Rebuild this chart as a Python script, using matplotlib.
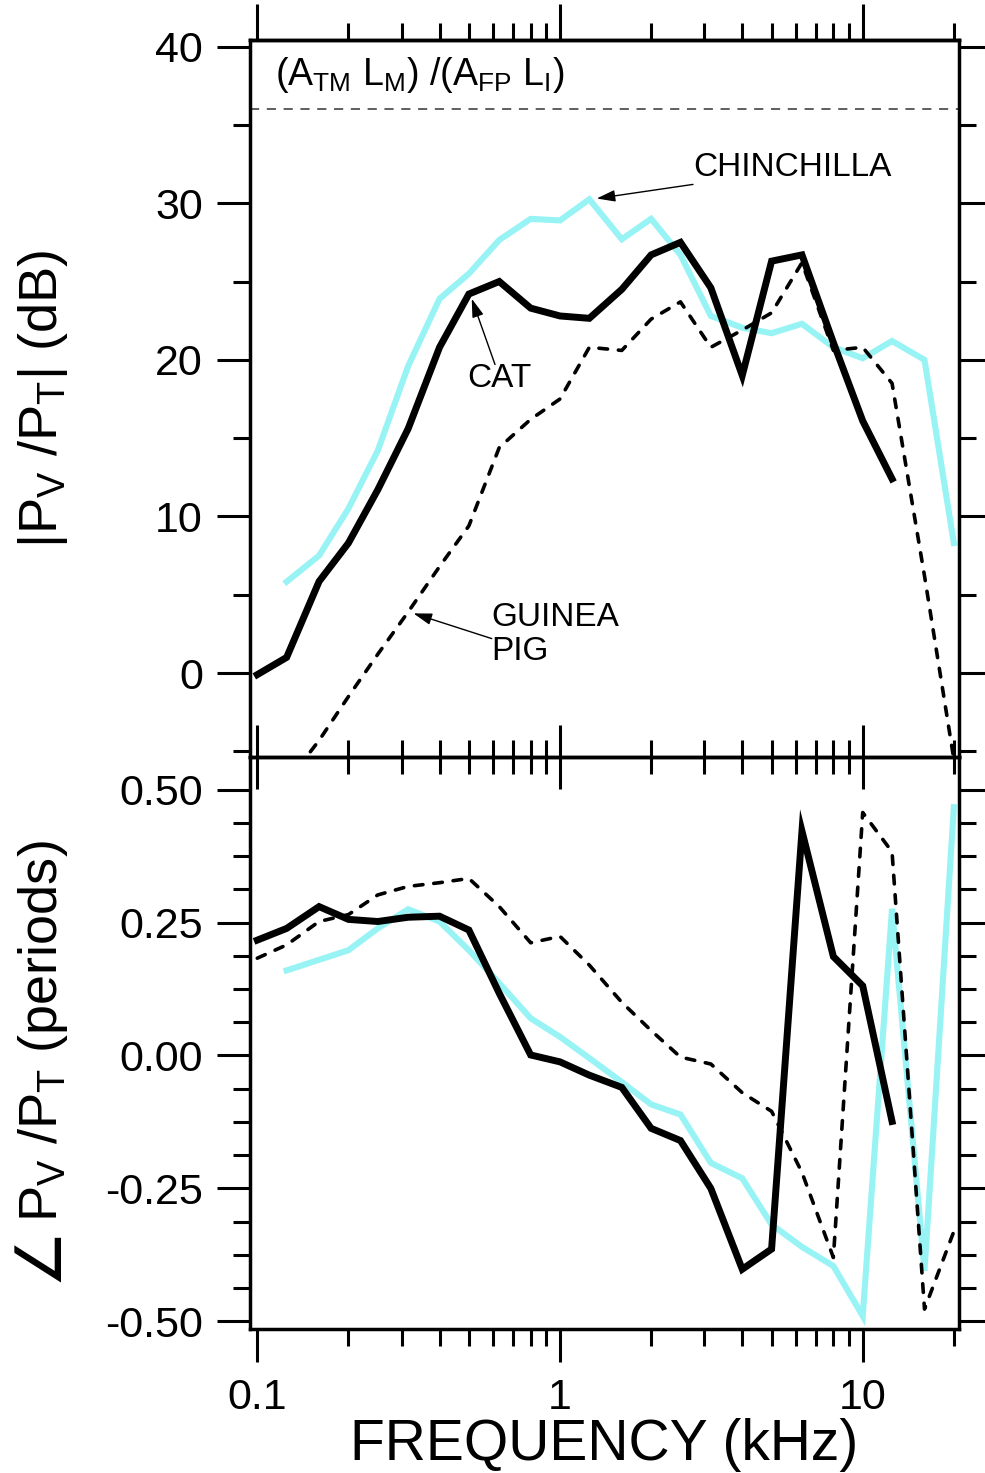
import matplotlib
matplotlib.use("Agg")
import matplotlib.pyplot as plt
from matplotlib.ticker import LogLocator, MultipleLocator, FuncFormatter, NullFormatter

plt.rcParams.update({
    "font.family": ["Liberation Sans", "DejaVu Sans"],
    "mathtext.fontset": "custom",
    "mathtext.rm": "Liberation Sans",
    "mathtext.it": "Liberation Sans",
    "mathtext.bf": "Liberation Sans:bold",
    "axes.unicode_minus": False,
})

# ---- data: 1/3-octave frequencies (kHz) ----
freq_cat = [0.1, 0.125, 0.16, 0.2, 0.25, 0.315, 0.4, 0.5, 0.63, 0.8, 1.0, 1.25,
            1.6, 2.0, 2.5, 3.15, 4.0, 5.0, 6.3, 8.0, 10.0, 12.5]
mag_cat = [-0.1, 1.0, 5.85, 8.3, 11.7, 15.6, 20.8, 24.2, 25.0, 23.3, 22.8, 22.65,
           24.5, 26.7, 27.5, 24.6, 19.0, 26.3, 26.7, 21.1, 16.1, 12.4]
phase_cat = [0.217, 0.239, 0.280, 0.256, 0.252, 0.260, 0.262, 0.236, 0.117, 0.001,
             -0.012, -0.037, -0.060, -0.137, -0.160, -0.250, -0.402, -0.364,
             0.422, 0.186, 0.131, -0.124]

freq_chin = [0.125, 0.16, 0.2, 0.25, 0.315, 0.4, 0.5, 0.63, 0.8, 1.0, 1.25, 1.6,
             2.0, 2.5, 3.15, 4.0, 5.0, 6.3, 8.0, 10.0, 12.5, 16.0, 20.0]
mag_chin = [5.83, 7.5, 10.5, 14.2, 19.6, 23.9, 25.5, 27.65, 29.0, 28.9, 30.25, 27.7,
            29.0, 26.7, 22.8, 22.05, 21.7, 22.3, 20.8, 20.1, 21.2, 20.0, 8.3]
phase_chin = [0.160, 0.180, 0.198, 0.239, 0.275, 0.252, 0.198, 0.136, 0.070, 0.035,
              -0.005, -0.050, -0.092, -0.111, -0.202, -0.231, -0.318, -0.360,
              -0.396, -0.490, 0.276, -0.405, 0.467]

freq_gp_mag = [0.125, 0.16, 0.2, 0.25, 0.315, 0.4, 0.5, 0.63, 0.8, 1.0, 1.25, 1.6,
               2.0, 2.5, 3.15, 4.0, 5.0, 6.3, 8.0, 10.0, 12.5, 16.0, 20.0]
mag_gp = [-7.0, -4.3, -1.5, 1.2, 3.9, 6.8, 9.4, 14.4, 16.2, 17.5, 20.8, 20.6,
          22.6, 23.7, 20.8, 21.9, 23.0, 26.2, 20.6, 20.8, 18.5, 6.2, -5.5]
freq_gp_ph = [0.1, 0.125, 0.16, 0.2, 0.25, 0.315, 0.4, 0.5, 0.63, 0.8, 1.0, 1.25,
              1.6, 2.0, 2.5, 3.15, 4.0, 5.0, 6.3, 8.0, 10.0, 12.5, 16.0, 20.0]
phase_gp = [0.183, 0.208, 0.252, 0.265, 0.302, 0.318, 0.325, 0.333, 0.280, 0.212,
            0.224, 0.170, 0.100, 0.047, -0.003, -0.016, -0.070, -0.105, -0.220,
            -0.380, 0.457, 0.383, -0.477, -0.331]

area_ratio_db = 36.0   # (A_TM L_M)/(A_FP L_I) reference level

CYAN = "#98f3f5"
XLIM = (0.0946, 20.8)

fig = plt.figure(figsize=(9.85, 14.73), dpi=100)
ax_mag = fig.add_axes([0.2538, 0.48608, 0.7198, 0.48676])
ax_ph = fig.add_axes([0.2538, 0.09776, 0.7198, 0.38832])

MAJ_LEN, MIN_LEN, TW = 24, 12, 2.2
for ax in (ax_mag, ax_ph):
    ax.set_facecolor("none")
    ax.set_xscale("log")
    ax.set_xlim(*XLIM)
    ax.xaxis.set_major_locator(LogLocator(base=10))
    ax.xaxis.set_minor_locator(LogLocator(base=10, subs=range(2, 10)))
    ax.xaxis.set_minor_formatter(NullFormatter())
    for s in ax.spines.values():
        s.set_linewidth(2.5)
    ax.tick_params(axis="y", which="major", direction="out", length=MAJ_LEN,
                   width=TW, left=True, right=True, labelsize=31, pad=10)
    ax.tick_params(axis="y", which="minor", direction="out", length=MIN_LEN,
                   width=TW, left=True, right=True)

# ---- magnitude panel ----
ax_mag.set_ylim(-5.36, 40.42)
ax_mag.yaxis.set_major_locator(MultipleLocator(10))
ax_mag.yaxis.set_minor_locator(MultipleLocator(5))
ax_mag.tick_params(axis="x", which="major", direction="inout", length=46,
                   width=TW, bottom=True, top=False, labelbottom=False)
ax_mag.tick_params(axis="x", which="minor", direction="inout", length=25,
                   width=TW, bottom=True, top=False)

top = ax_mag.secondary_xaxis("top")
top.xaxis.set_major_locator(LogLocator(base=10))
top.xaxis.set_minor_locator(LogLocator(base=10, subs=range(2, 10)))
top.xaxis.set_major_formatter(NullFormatter())
top.xaxis.set_minor_formatter(NullFormatter())
top.tick_params(axis="x", which="major", direction="out", length=26, width=TW)
top.tick_params(axis="x", which="minor", direction="out", length=MIN_LEN, width=TW)
top.spines["top"].set_linewidth(2.5)

ax_mag.axhline(area_ratio_db, color="#333333", lw=1.1, dashes=(6, 5))
ax_mag.plot(freq_chin, mag_chin, color=CYAN, lw=4.4, solid_joinstyle="miter")
ax_mag.plot(freq_gp_mag, mag_gp, color="black", lw=2.6, dashes=(2.4, 3.0),
            dash_capstyle="round")
ax_mag.plot(freq_cat, mag_cat, color="black", lw=5.0, solid_joinstyle="miter")

ax_mag.text(0.1145, 38.2, "(A$_{TM}$ L$_{M}$) /(A$_{FP}$ L$_{I}$)",
            fontsize=27, ha="left", va="center")

arrow = dict(arrowstyle="-|>,head_length=0.7,head_width=0.22", color="black",
             lw=1.0, shrinkA=0, shrinkB=0)
ax_mag.text(2.75, 32.3, "CHINCHILLA", fontsize=24, ha="left", va="center")
ax_mag.annotate("", xy=(1.322, 30.3), xytext=(2.75, 31.2),
                arrowprops=dict(arrow, mutation_scale=16))
ax_mag.text(0.492, 18.8, "CAT", fontsize=24, ha="left", va="center")
ax_mag.annotate("", xy=(0.511, 23.9), xytext=(0.610, 19.7),
                arrowprops=dict(arrow, mutation_scale=16))
ax_mag.text(0.595, 2.45, "GUINEA\nPIG", fontsize=24, ha="left", va="center",
            linespacing=1.15)
ax_mag.annotate("", xy=(0.328, 3.81), xytext=(0.595, 2.2),
                arrowprops=dict(arrow, mutation_scale=16))

ax_mag.set_ylabel("|P$_{V}$ /P$_{T}$| (dB)", fontsize=39)
ax_mag.yaxis.set_label_coords(-0.254, 0.5)

# ---- phase panel ----
ax_ph.set_ylim(-0.5144, 0.5614)
ax_ph.yaxis.set_major_locator(MultipleLocator(0.25))
ax_ph.yaxis.set_minor_locator(MultipleLocator(0.0625))
ax_ph.yaxis.set_major_formatter(FuncFormatter(lambda v, p: f"{v:.2f}"))
ax_ph.xaxis.set_major_formatter(FuncFormatter(lambda v, p: f"{v:g}"))
ax_ph.tick_params(axis="x", which="major", direction="out", length=MAJ_LEN,
                  width=TW, top=False, labelsize=31, pad=11)
ax_ph.tick_params(axis="x", which="minor", direction="out", length=MIN_LEN,
                  width=TW, top=False)

ax_ph.plot(freq_chin, phase_chin, color=CYAN, lw=4.4, solid_joinstyle="miter")
ax_ph.plot(freq_gp_ph, phase_gp, color="black", lw=2.6, dashes=(2.4, 3.0),
           dash_capstyle="round")
ax_ph.plot(freq_cat, phase_cat, color="black", lw=5.0, solid_joinstyle="miter")

# phase label: the angle sign comes from DejaVu Sans, the rest via mathtext
ax_ph.set_ylabel("P$_{V}$ /P$_{T}$ (periods)", fontsize=39)
ax_ph.yaxis.set_label_coords(-0.254, 0.52)
ax_ph.set_xlabel("FREQUENCY (kHz)", fontsize=41)
ax_ph.xaxis.set_label_coords(0.5, -0.156)

fig.canvas.draw()
W, H = fig.canvas.get_width_height()
bb = ax_ph.yaxis.label.get_window_extent()
fig.text(bb.x1 / W, (bb.y0 - 2) / H, "∠", fontsize=46, family="DejaVu Sans",
         rotation=90, rotation_mode="anchor", ha="right", va="bottom")

fig.savefig("out.png", dpi=100, facecolor="white")
